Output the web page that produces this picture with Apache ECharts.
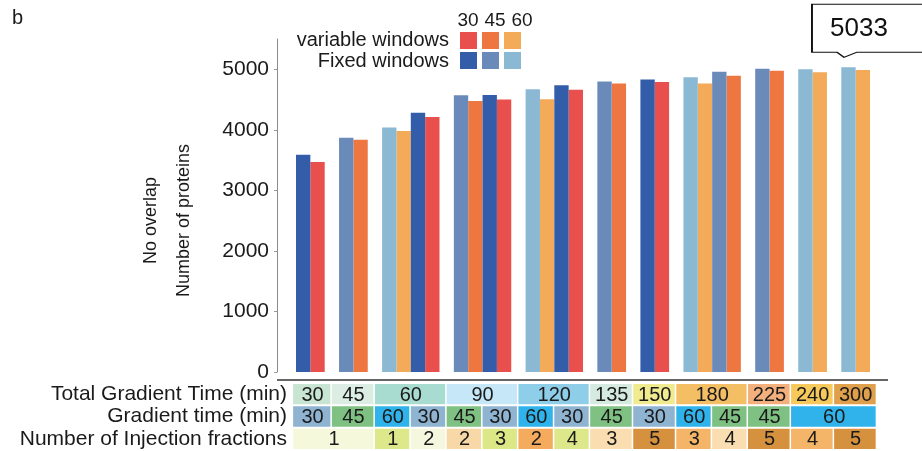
<!DOCTYPE html>
<html>
<head>
<meta charset="utf-8">
<script src="https://cdn.jsdelivr.net/npm/echarts@6/dist/echarts.min.js"></script>
<style>
  html, body { margin: 0; padding: 0; background: #fff; }
  #chart { width: 922px; height: 451px; }
</style>
</head>
<body>
<div id="chart"></div>
<script>
// One entry per run set-up: total gradient = gradient time x injection fractions
const totalGradientTime  = [30, 45, 60, 60, 90, 90, 120, 120, 135, 150, 180, 180, 225, 240, 300];
const gradientTime       = [30, 45, 60, 30, 45, 30, 60, 30, 45, 30, 60, 45, 45, 60, 60];
const injectionFractions = [1, 1, 1, 2, 2, 3, 2, 4, 3, 5, 3, 4, 5, 4, 5];
const fixedWindows       = [3590, 3870, 4040, 4280, 4570, 4575, 4670, 4735, 4800, 4830, 4870, 4960, 5010, 5000, 5033];
const variableWindows    = [3470, 3835, 3980, 4210, 4475, 4500, 4505, 4660, 4765, 4790, 4765, 4895, 4975, 4950, 4990];
const windowSizes = [30, 45, 60];
const yTicks = [0, 1000, 2000, 3000, 4000, 5000];
const yMax = 5500;
const rowTitles = ['Total Gradient Time (min)', 'Gradient time (min)', 'Number of Injection fractions'];

// Table cells of the lower rows: [label, number of runs covered]
const gradientCells  = [[30,1],[45,1],[60,1],[30,1],[45,1],[30,1],[60,1],[30,1],[45,1],[30,1],[60,1],[45,1],[45,1],[60,2]];
const injectionCells = [[1,2],[1,1],[2,1],[2,1],[3,1],[2,1],[4,1],[3,1],[5,1],[3,1],[4,1],[5,1],[4,1],[5,1]];

// ---- styles ----
const FONT = 'Liberation Sans, Arial, Helvetica, sans-serif';
const TEXT = '#1a1a1a';
const fixedColors    = { 30: '#335DA8', 45: '#6A8BBA', 60: '#8BB8D3' };
const variableColors = { 30: '#E9504D', 45: '#EE7741', 60: '#F3AA59' };
const totalColors    = ['#C8E4D2', '#DCEEE4', '#A9DCD0', '#C6E7F8', '#8ECEE9', '#D5EBE0',
                        '#F1EB8F', '#F4BE64', '#F3B07D', '#F7C95B', '#E0A04B'];
const gradientColors = { 30: '#8FB4D2', 45: '#7FC182', 60: '#2FB3EA' };
const injectionColors = ['#F6F8DC', '#DDE88A', '#F5F7DE', '#F9D8A7', '#DCE786', '#F4AB5E', '#DDE88A',
                         '#FADDB1', '#D6913F', '#F4B568', '#FADDB1', '#D6913F', '#F4B568', '#D6913F'];

// ---- slot layout: each run takes two bar slots, a spacer slot separates total-gradient groups ----
const nRuns = totalGradientTime.length;
const pairSlot = [];
let slot = 0;
for (let i = 0; i < nRuns; i++) {
  if (i > 0 && totalGradientTime[i] !== totalGradientTime[i - 1]) slot++;
  pairSlot.push(slot);
  slot += 2;
}
const nSlots = slot;
const slotNames = Array.from({ length: nSlots }, (_, k) => 's' + k);

function seriesFor(kind, size) {
  const values = kind === 'Fixed' ? fixedWindows : variableWindows;
  const data = new Array(nSlots).fill(null);
  for (let i = 0; i < nRuns; i++) {
    if (gradientTime[i] === size) data[pairSlot[i] + (kind === 'Fixed' ? 0 : 1)] = values[i];
  }
  return data;
}

// horizontal extent (in slot units) of a table cell covering runs a..b
function cellExtent(a, b) {
  const s0 = pairSlot[a], s1 = pairSlot[b] + 1;
  const gapBefore = a > 0 && pairSlot[a - 1] + 2 < s0;
  const gapAfter = b < nRuns - 1 && pairSlot[b + 1] > s1 + 1;
  const left = s0 - 0.5 - (a === 0 ? 0.2 : (gapBefore ? 0.5 : 0));
  const right = s1 + 0.5 + (b === nRuns - 1 ? 0.5 : (gapAfter ? 0.5 : 0));
  return [left, right];
}

// merge equal neighbouring totals into one cell
const totalCells = [];
totalGradientTime.forEach((t, i) => {
  const last = totalCells[totalCells.length - 1];
  if (last && last[0] === t) last[1]++; else totalCells.push([t, 1]);
});

const tableCells = [];
function addRow(cells, row, colorOf) {
  let run = 0;
  cells.forEach((c, k) => {
    const [x0, x1] = cellExtent(run, run + c[1] - 1);
    tableCells.push({ x0, x1, row, label: String(c[0]), color: colorOf(c, k) });
    run += c[1];
  });
}
addRow(totalCells, 0, (c, k) => totalColors[k]);
addRow(gradientCells, 1, (c) => gradientColors[c[0]]);
addRow(injectionCells, 2, (c, k) => injectionColors[k]);

// ---- series ----
const barSeries = [];
['variable', 'Fixed'].forEach(kind => {
  windowSizes.forEach(size => {
    barSeries.push({
      name: kind + ' ' + size,
      type: 'bar',
      xAxisIndex: 0, yAxisIndex: 0,
      data: seriesFor(kind, size),
      barGap: '-100%',
      barCategoryGap: '0%',
      itemStyle: { color: (kind === 'Fixed' ? fixedColors : variableColors)[size] },
      emphasis: { disabled: true }
    });
  });
});

// callout with the highest protein count
const bestRun = fixedWindows.indexOf(Math.max(...fixedWindows));
const topSeries = barSeries.find(s => s.name === 'Fixed ' + gradientTime[bestRun]);
topSeries.markPoint = {
  silent: true,
  symbol: 'path://M0 0 L118 0 L118 48 L45 48 L32 53 L25 48 L0 48 Z',
  symbolSize: [118, 53],
  symbolOffset: [22.5, -36.5],
  itemStyle: { color: '#fff', borderColor: '#111', borderWidth: 1.3 },
  label: { show: true, position: 'inside', formatter: '{c}', fontSize: 26, fontFamily: FONT,
           color: '#111', offset: [-12, -2] },
  data: [{ coord: [slotNames[pairSlot[bestRun]], fixedWindows[bestRun]], value: fixedWindows[bestRun] }]
};

const tableSeries = {
  type: 'custom',
  xAxisIndex: 1, yAxisIndex: 1,
  silent: true,
  encode: { x: [0, 1], y: 2 },
  data: tableCells.map(c => [c.x0, c.x1, c.row, c.label]),
  renderItem(params, api) {
    const cell = tableCells[params.dataIndex];
    const p0 = api.coord([api.value(0), api.value(2)]);
    const p1 = api.coord([api.value(1), api.value(2)]);
    const h = api.size([0, 1])[1];
    return {
      type: 'group',
      children: [
        { type: 'rect',
          shape: { x: p0[0], y: p0[1] - h / 2 + 1, width: p1[0] - p0[0] - 1.5, height: h - 2 },
          style: { fill: cell.color } },
        { type: 'text',
          style: { text: cell.label, x: (p0[0] + p1[0]) / 2, y: p0[1] + 1, align: 'center',
                   verticalAlign: 'middle', fontSize: 20, fontFamily: FONT, fill: TEXT } }
      ]
    };
  }
};

const chart = echarts.init(document.getElementById('chart'), null, { renderer: 'canvas' });

const legendBase = {
  left: 460, itemWidth: 17, itemHeight: 17, itemGap: 5, icon: 'rect', padding: 0,
  selectedMode: false, formatter: () => '', textStyle: { fontSize: 1 }
};

chart.setOption({
  animation: false,
  backgroundColor: '#fff',
  textStyle: { fontFamily: FONT },
  grid: [
    { left: 296, right: 52, top: 39, bottom: 79 },
    { left: 296, right: 52, top: 383, height: 67 }
  ],
  xAxis: [
    { type: 'category', gridIndex: 0, data: slotNames, show: false, boundaryGap: true },
    { type: 'value', gridIndex: 1, min: -0.5, max: nSlots - 0.5, show: false }
  ],
  yAxis: [
    { type: 'value', gridIndex: 0, min: yTicks[0], max: yMax,
      interval: yTicks[1] - yTicks[0], offset: 19,
      axisLine: { show: true, lineStyle: { color: '#8c8c8c', width: 1 } },
      axisTick: { show: true, length: 3, lineStyle: { color: '#999' } },
      axisLabel: { fontSize: 21, color: TEXT, margin: 8, fontFamily: FONT, showMaxLabel: false,
                   formatter: v => (yTicks.includes(v) ? String(v) : '') },
      splitLine: { show: false },
      name: 'No overlap\nNumber of proteins',
      nameLocation: 'middle', nameGap: 76,
      nameTextStyle: { fontSize: 18, lineHeight: 33, color: TEXT, fontFamily: FONT, padding: [0, 30, 0, 0] } },
    { type: 'category', gridIndex: 1, data: rowTitles, inverse: true,
      axisLine: { show: false }, axisTick: { show: false },
      axisLabel: { interval: 0, fontSize: 21, color: TEXT, margin: 9, fontFamily: FONT } }
  ],
  legend: [
    Object.assign({ top: 32, data: windowSizes.map(s => 'variable ' + s) }, legendBase),
    Object.assign({ top: 52, data: windowSizes.map(s => 'Fixed ' + s) }, legendBase)
  ],
  graphic: [
    { type: 'text', left: 12, top: 8, style: { text: 'b', fontSize: 20, fontFamily: FONT, fill: TEXT } },
    { type: 'text', x: 449, y: 40, style: { text: 'variable windows', align: 'right', verticalAlign: 'middle',
      fontSize: 20, fontFamily: FONT, fill: TEXT } },
    { type: 'text', x: 449, y: 61, style: { text: 'Fixed windows', align: 'right', verticalAlign: 'middle',
      fontSize: 20, fontFamily: FONT, fill: TEXT } },
    ...windowSizes.map((s, k) => ({
      type: 'text', x: 468 + k * 27, y: 21,
      style: { text: String(s), align: 'center', verticalAlign: 'middle', fontSize: 19, fontFamily: FONT, fill: TEXT }
    })),
    { type: 'line', shape: { x1: 277, y1: 380, x2: 888, y2: 380 }, style: { stroke: '#333', lineWidth: 1.5 } }
  ],
  series: [...barSeries, tableSeries]
});
</script>
</body>
</html>
